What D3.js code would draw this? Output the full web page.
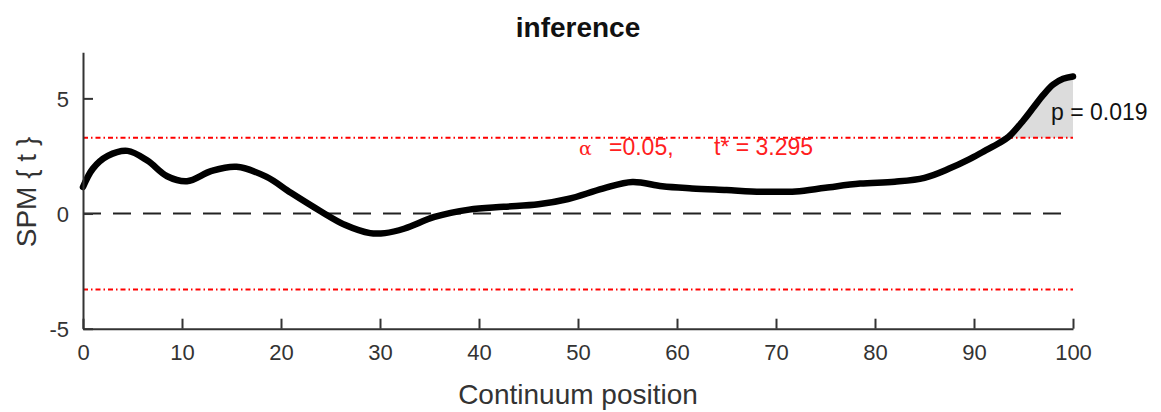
<!DOCTYPE html>
<html>
<head>
<meta charset="utf-8">
<script src="https://cdn.jsdelivr.net/npm/d3@7"></script>
<style>
    body { margin: 0; background: #fff; }
    text { font-family: "Liberation Sans", Arial, sans-serif; }
</style>
</head>
<body>
<script>

// continuum positions and the SPM{t} values
let positions = [0, 1, 2.5, 4.5, 6.5, 8.5, 10.5, 13, 15.5, 18.5, 21, 24, 26.5, 29, 30.5, 32.5, 35.5, 39,
    42.5, 46, 49, 52.5, 55.5, 58.5, 61.5, 65, 68.5, 72, 75, 78.5, 82, 85, 87.5, 89.5, 91, 92.5, 93.5,
    95, 96, 97, 98, 99, 100];
let tValues = [1.15, 1.95, 2.5, 2.72, 2.3, 1.62, 1.4, 1.85, 2.03, 1.6, 0.9, 0.1, -0.5, -0.85, -0.85, -0.65, -0.15, 0.17,
    0.29, 0.4, 0.63, 1.08, 1.37, 1.18, 1.09, 1.02, 0.95, 0.96, 1.12, 1.3, 1.38, 1.55, 1.95, 2.35, 2.7, 3.05, 3.33,
    4.05, 4.6, 5.15, 5.6, 5.85, 5.95];

let xTicks = [0, 10, 20, 30, 40, 50, 60, 70, 80, 90, 100];
let yTicks = [-5, 0, 5];

let alpha = 0.05;
let tCrit = 3.295;
let pValue = 0.019;

let width = 1161, height = 412;

let x = d3.scaleLinear().domain([0, 100]).range([83, 1073]);
let y = d3.scaleLinear().domain([-5, 7]).range([328.7, 52.3]);

let svg = d3.select("body").append("svg")
    .attr("width", width)
    .attr("height", height);

let data = positions.map(function(p, i) { return {x: p, t: tValues[i]}; });

//suprathreshold cluster, filled between threshold and curve
let cluster = data.filter(function(d) { return d.t >= tCrit; });

svg.append("path")
    .datum(cluster)
    .attr("fill", "#dcdcdc")
    .attr("d", d3.area()
        .x(function(d) { return x(d.x); })
        .y0(y(tCrit))
        .y1(function(d) { return y(d.t); })
        .curve(d3.curveCatmullRom));

//zero line
svg.append("line")
    .attr("x1", x(0)).attr("x2", x(100))
    .attr("y1", y(0)).attr("y2", y(0))
    .attr("stroke", "#222")
    .attr("stroke-width", 2)
    .attr("stroke-dasharray", "18,12");

//critical thresholds
[tCrit, -tCrit].forEach(function(v) {
    svg.append("line")
        .attr("x1", x(0)).attr("x2", x(100))
        .attr("y1", y(v)).attr("y2", y(v))
        .attr("stroke", "#ff0000")
        .attr("stroke-width", 2)
        .attr("stroke-dasharray", "5,3,1.5,3");
});

//SPM curve
svg.append("path")
    .datum(data)
    .attr("fill", "none")
    .attr("stroke", "#000")
    .attr("stroke-width", 6.5)
    .attr("stroke-linecap", "round")
    .attr("stroke-linejoin", "round")
    .attr("d", d3.line()
        .x(function(d) { return x(d.x); })
        .y(function(d) { return y(d.t); })
        .curve(d3.curveCatmullRom));

//axes, ticks pointing inward
let xAxis = svg.append("g")
    .attr("transform", "translate(0," + y(-5) + ")")
    .call(d3.axisBottom(x).tickValues(xTicks).tickFormat(String)
        .tickSizeInner(-10).tickSizeOuter(0).tickPadding(16));

let yAxis = svg.append("g")
    .attr("transform", "translate(" + x(0) + ",0)")
    .call(d3.axisLeft(y).tickValues(yTicks).tickFormat(String)
        .tickSizeInner(-10).tickSizeOuter(0).tickPadding(14));

[xAxis, yAxis].forEach(function(g) {
    g.select(".domain").attr("stroke", "#333").attr("stroke-width", 2);
    g.selectAll(".tick line").attr("stroke", "#333").attr("stroke-width", 2);
    g.selectAll(".tick text")
        .attr("fill", "#333")
        .style("font-size", "22px");
});

yAxis.selectAll(".tick text").attr("dy", "0.36em");

//title
svg.append("text")
    .attr("x", 578).attr("y", 37)
    .attr("text-anchor", "middle")
    .style("font-size", "28px")
    .style("font-weight", "bold")
    .attr("fill", "#111")
    .text("inference");

//axis labels
svg.append("text")
    .attr("x", 578).attr("y", 404)
    .attr("text-anchor", "middle")
    .style("font-size", "28px")
    .attr("fill", "#333")
    .text("Continuum position");

svg.append("text")
    .attr("transform", "translate(36,192) rotate(-90)")
    .attr("text-anchor", "middle")
    .style("font-size", "28px")
    .attr("fill", "#333")
    .text("SPM { t }");

//threshold annotation
let note = svg.append("text")
    .attr("y", 155)
    .style("font-size", "23px")
    .attr("fill", "#ff2020");

note.append("tspan").attr("x", 579).style("font-family", "DejaVu Serif").style("font-size", "19px").text("\u03b1");
note.append("tspan").attr("x", 609).text("=" + alpha.toFixed(2) + ",");
note.append("tspan").attr("x", 714).text("t* = " + tCrit.toFixed(3));

//cluster p value
svg.append("text")
    .attr("x", 1051).attr("y", 120)
    .style("font-size", "23px")
    .attr("fill", "#111")
    .text("p = " + pValue.toFixed(3));

</script>
</body>
</html>
